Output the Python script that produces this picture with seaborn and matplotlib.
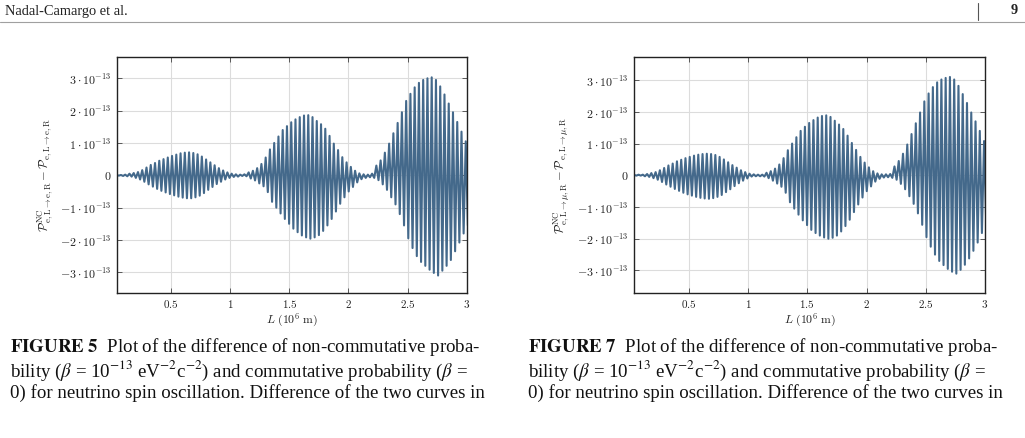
import numpy as np
import matplotlib
matplotlib.use("Agg")
import matplotlib.pyplot as plt
import seaborn as sns
from matplotlib.lines import Line2D


# extrema of the oscillation (units of 1e-13),
# alternating maximum / minimum, one every half period along L
L_start = 0.04
L_half_period = 0.018

diff_e = [
    0.01, -0.01, 0.01, -0.02, 0.02, -0.03, 0.05, -0.04, 0.07, -0.08,
    0.10, -0.13, 0.16, -0.20, 0.24, -0.28, 0.32, -0.35, 0.38, -0.42,
    0.45, -0.48, 0.50, -0.53, 0.55, -0.58, 0.60, -0.62, 0.64, -0.66,
    0.68, -0.69, 0.70, -0.71, 0.71, -0.71, 0.69, -0.68, 0.65, -0.63,
    0.58, -0.55, 0.49, -0.45, 0.40, -0.36, 0.31, -0.27, 0.22, -0.20,
    0.15, -0.13, 0.09, -0.08, 0.05, -0.05, 0.03, -0.04, 0.02, -0.02,
    0.03, -0.03, 0.09, -0.10, 0.14, -0.16, 0.22, -0.25, 0.35, -0.34,
    0.55, -0.52, 0.80, -0.82, 1.00, -1.00, 1.20, -1.18, 1.40, -1.35,
    1.52, -1.50, 1.64, -1.65, 1.73, -1.76, 1.80, -1.86, 1.85, -1.92,
    1.86, -1.96, 1.80, -1.92, 1.68, -1.85, 1.58, -1.72, 1.44, -1.55,
    1.22, -1.35, 0.98, -1.12, 0.78, -0.88, 0.56, -0.68, 0.40, -0.50,
    0.26, -0.36, 0.14, -0.22, 0.06, -0.12, 0.03, -0.08, 0.02, -0.06,
    0.05, -0.08, 0.30, -0.15, 0.46, -0.28, 0.70, -0.45, 0.98, -0.68,
    1.30, -0.90, 1.62, -1.20, 1.95, -1.55, 2.30, -1.95, 2.52, -2.25,
    2.72, -2.50, 2.86, -2.68, 2.95, -2.80, 3.00, -2.92, 3.03, -3.02,
    2.95, -3.10, 2.75, -2.95, 2.50, -2.80, 2.22, -2.62, 1.95, -2.35,
    1.65, -2.08, 1.35, -1.80, 1.05, -1.55,
]

diff_mu = [
    0.01, -0.01, 0.02, -0.01, 0.02, -0.03, 0.04, -0.05, 0.07, -0.09,
    0.10, -0.14, 0.16, -0.21, 0.23, -0.29, 0.31, -0.36, 0.37, -0.43,
    0.44, -0.49, 0.49, -0.55, 0.54, -0.60, 0.58, -0.64, 0.62, -0.68,
    0.65, -0.71, 0.67, -0.73, 0.68, -0.74, 0.67, -0.72, 0.64, -0.68,
    0.58, -0.62, 0.50, -0.53, 0.41, -0.44, 0.32, -0.34, 0.24, -0.25,
    0.16, -0.17, 0.10, -0.10, 0.05, -0.04, 0.03, -0.03, 0.02, -0.03,
    0.02, -0.04, 0.08, -0.09, 0.13, -0.17, 0.21, -0.26, 0.34, -0.36,
    0.54, -0.55, 0.79, -0.85, 1.00, -1.05, 1.20, -1.24, 1.40, -1.42,
    1.53, -1.57, 1.65, -1.72, 1.74, -1.82, 1.82, -1.90, 1.87, -1.96,
    1.89, -2.00, 1.84, -1.97, 1.72, -1.90, 1.60, -1.77, 1.46, -1.60,
    1.25, -1.40, 1.02, -1.16, 0.80, -0.92, 0.58, -0.70, 0.40, -0.50,
    0.25, -0.35, 0.13, -0.20, 0.06, -0.11, 0.03, -0.07, 0.03, -0.06,
    0.04, -0.08, 0.28, -0.14, 0.45, -0.27, 0.68, -0.44, 0.97, -0.66,
    1.30, -0.90, 1.64, -1.20, 1.98, -1.56, 2.33, -1.95, 2.58, -2.25,
    2.78, -2.50, 2.93, -2.70, 3.02, -2.83, 3.07, -2.95, 3.10, -3.04,
    3.02, -3.10, 2.82, -2.98, 2.56, -2.82, 2.28, -2.62, 1.98, -2.38,
    1.70, -2.12, 1.40, -1.82, 1.08, -1.45,
]

x_ticks = [0.5, 1, 1.5, 2, 2.5, 3]
x_tick_labels = ["$0.5$", "$1$", "$1.5$", "$2$", "$2.5$", "$3$"]

y_ticks = [-3e-13, -2e-13, -1e-13, 0, 1e-13, 2e-13, 3e-13]
y_tick_labels = [
    r"$-3\cdot10^{-13}$", r"$-2\cdot10^{-13}$", r"$-1\cdot10^{-13}$",
    r"$0$",
    r"$1\cdot10^{-13}$", r"$2\cdot10^{-13}$", r"$3\cdot10^{-13}$",
]

ylabel_e = r"$\mathcal{P}^{\mathrm{NC}}_{\mathrm{e,L}\to\mathrm{e,R}}-\mathcal{P}_{\mathrm{e,L}\to\mathrm{e,R}}$"
ylabel_mu = r"$\mathcal{P}^{\mathrm{NC}}_{\mathrm{e,L}\to\mu\mathrm{,R}}-\mathcal{P}_{\mathrm{e,L}\to\mu\mathrm{,R}}$"

caption_5 = [
    r"$\mathbf{FIGURE\ 5}$  Plot of the difference of non-commutative proba-",
    r"bility ($\beta$ = 10$^{-13}$ eV$^{-2}$c$^{-2}$) and commutative probability ($\beta$ =",
    "0) for neutrino spin oscillation. Difference of the two curves in",
]
caption_7 = [
    r"$\mathbf{FIGURE\ 7}$  Plot of the difference of non-commutative proba-",
    r"bility ($\beta$ = 10$^{-13}$ eV$^{-2}$c$^{-2}$) and commutative probability ($\beta$ =",
    "0) for neutrino spin oscillation. Difference of the two curves in",
]

line_color = "#44698b"


sns.set_style("whitegrid")
plt.rcParams["font.family"] = ["serif"]
plt.rcParams["font.serif"] = ["cmr10", "DejaVu Serif"]
plt.rcParams["mathtext.fontset"] = "cm"

W, H = 1025, 438
fig = plt.figure(figsize=(W / 100, H / 100), dpi=100)

ax1 = fig.add_axes([116.7 / W, (H - 293.3) / H, 350 / W, 236 / H])
ax2 = fig.add_axes([634.3 / W, (H - 293.3) / H, 350.7 / W, 236 / H])

L = L_start + L_half_period * np.arange(len(diff_e))

panels = [
    (ax1, diff_e, ylabel_e, 3.65e-13),
    (ax2, diff_mu, ylabel_mu, 3.72e-13),
]

for ax, vals, ylab, ylim in panels:

    sns.lineplot(
        x=L,
        y=np.array(vals) * 1e-13,
        ax=ax,
        color=line_color,
        linewidth=1.5,
        estimator=None,
        sort=False,
    )

    ax.set_xlim(0.04, 3)
    ax.set_ylim(-ylim, ylim)

    ax.set_xticks(x_ticks)
    ax.set_xticklabels(x_tick_labels)
    ax.set_yticks(y_ticks)
    ax.set_yticklabels(y_tick_labels)

    ax.grid(True, color="#dcdcdc", linewidth=0.8)
    ax.set_axisbelow(True)

    ax.tick_params(
        direction="in", length=3.5, width=0.6, color="#444444",
        labelcolor="#222222",
        bottom=True, left=True, top=True, right=True,
    )
    ax.tick_params(axis="x", labelsize=8, pad=3.5)
    ax.tick_params(axis="y", labelsize=8.6, pad=4)

    for s in ax.spines.values():
        s.set_color("#222222")
        s.set_linewidth(1.0)

    ax.set_xlabel(r"$L\ (10^{6}\ \mathrm{m})$", fontsize=8.5, va="center", color="#222222")
    ax.xaxis.set_label_coords(0.5, -0.113)

    ax.set_ylabel(ylab, fontsize=9, va="center", color="#222222")
    ax.yaxis.set_label_coords(-0.205, 0.5)


# page header
fig.text(5 / W, 1 - 11 / H, "Nadal-Camargo et al.", fontsize=10.4,
         family="Liberation Serif", va="center", color="#222222")
fig.text(1014 / W, 1 - 11 / H, "9", fontsize=10.4, fontweight="bold",
         family="Liberation Serif", va="center", ha="center", color="#222222")
fig.add_artist(Line2D([0, 1], [1 - 22 / H, 1 - 22 / H], color="#a0a0a0", linewidth=0.8))
fig.add_artist(Line2D([978 / W, 978 / W], [1 - 3 / H, 1 - 20 / H], color="#555555", linewidth=0.8))

# captions
for x0, lines in [(10, caption_5), (528, caption_7)]:
    for k, text in enumerate(lines):
        fig.text(x0 / W, 1 - (347.5 + 23 * k) / H, text, fontsize=13.6,
                 family="Liberation Serif", math_fontfamily="stix",
                 va="center", ha="left", color="#111111")

fig.savefig("out.png", dpi=100)
